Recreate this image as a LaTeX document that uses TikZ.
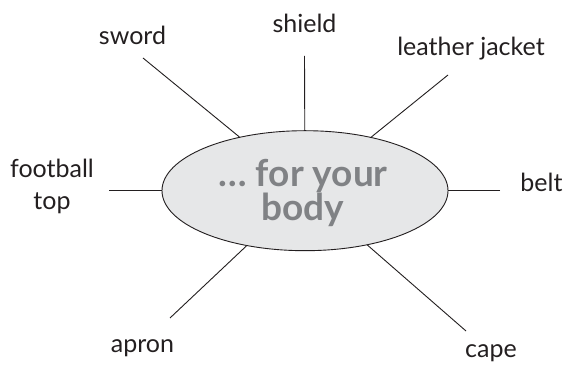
\documentclass[tikz,border=0pt]{standalone}
\usepackage{fontspec}
\setmainfont{Lato}
\usetikzlibrary{shapes.geometric}
\definecolor{inkc}{HTML}{231F20}
\definecolor{fillc}{HTML}{E6E7E8}
\definecolor{greyc}{HTML}{808285}
\begin{document}
\begin{tikzpicture}[x=1pt,y=1pt,
  lbl/.style={font=\fontsize{25}{32}\selectfont, text=inkc, inner sep=0pt, anchor=base},
  conn/.style={draw=inkc, line width=0.9pt},
  hub/.style={ellipse, draw=inkc, line width=0.9pt, fill=fillc, minimum width=286pt, minimum height=120pt, inner sep=0pt}]
\useasboundingbox[fill=white] (0,0) rectangle (568,366);
\node[hub] (c) at (305,175.3) {};
\node[font=\bfseries\fontsize{37}{33}\selectfont, text=greyc, align=center, inner sep=0pt] (ct) at (303,173) {… for your\\body};
\node[lbl] (sword) at (132.5,321) {sword};
\node[lbl] (shield) at (304.5,333) {shield};
\node[lbl] (jacket) at (471,310) {leather jacket};
\node[lbl, align=center, anchor=center] (football) at (52,180) {football\\top};
\node[lbl] (belt) at (541.5,174.3) {belt};
\node[lbl] (apron) at (142.5,13) {apron};
\node[lbl] (cape) at (491,8) {cape};
\coordinate (e1) at (143,308);
\coordinate (e2) at (304.5,310);
\coordinate (e3) at (448,291);
\coordinate (e4) at (109,175.3);
\coordinate (e5) at (500,175.3);
\coordinate (e6) at (170,48);
\coordinate (e7) at (466,35);
\draw[conn] (e1) -- (c);
\draw[conn] (e2) -- (c);
\draw[conn] (e3) -- (c);
\draw[conn] (e4) -- (c);
\draw[conn] (e5) -- (c);
\draw[conn] (e6) -- (c);
\draw[conn] (e7) -- (c);
\end{tikzpicture}
\end{document}
